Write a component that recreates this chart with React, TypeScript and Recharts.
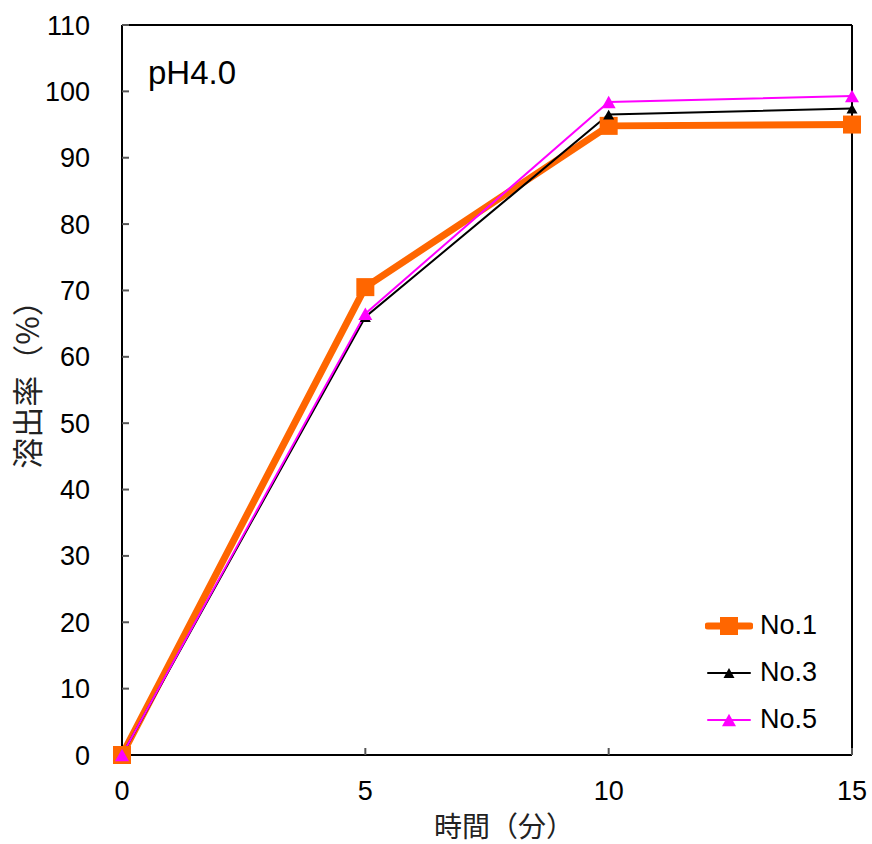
import { LineChart, Line, XAxis, YAxis, ReferenceLine, Legend } from 'recharts';

const minutes = [0, 5, 10, 15];
const no1 = [0, 70.5, 94.8, 95.0];
const no3 = [0, 66.0, 96.5, 97.4];
const no5 = [0, 66.5, 98.4, 99.3];
const yTicks = [0, 10, 20, 30, 40, 50, 60, 70, 80, 90, 100, 110];

const data = minutes.map((t, i) => ({ t, no1: no1[i], no3: no3[i], no5: no5[i] }));

const FONT = 'Arial, "Liberation Sans", sans-serif';
const CJK = '"Noto Sans CJK JP", sans-serif';

type Shape = 'square' | 'triangle';

const series = [
  { key: 'no1', name: 'No.1', color: '#FF6600', width: 7, shape: 'square' as Shape, size: 18 },
  { key: 'no3', name: 'No.3', color: '#000000', width: 2, shape: 'triangle' as Shape, size: 11 },
  { key: 'no5', name: 'No.5', color: '#FF00FF', width: 2, shape: 'triangle' as Shape, size: 14 },
];

function Marker({ cx, cy, shape, size, color }: { cx: number; cy: number; shape: Shape; size: number; color: string }) {
  if (shape === 'square') {
    return <rect x={cx - size / 2} y={cy - size / 2} width={size} height={size} fill={color} />;
  }
  const h = size * 0.9;
  return (
    <polygon
      points={`${cx},${cy - h / 2} ${cx + size / 2},${cy + h / 2} ${cx - size / 2},${cy + h / 2}`}
      fill={color}
    />
  );
}

function LegendBox() {
  return (
    <div style={{ fontFamily: FONT, fontSize: 27, color: '#000' }}>
      {series.map(s => (
        <div key={s.key} style={{ display: 'flex', alignItems: 'center', height: 47 }}>
          <svg width={48} height={24}>
            <line x1={3} y1={12} x2={45} y2={12} stroke={s.color} strokeWidth={s.width} strokeLinecap="round" />
            <Marker cx={24} cy={12} shape={s.shape} size={s.size} color={s.color} />
          </svg>
          <span style={{ marginLeft: 7, lineHeight: 1 }}>{s.name}</span>
        </div>
      ))}
    </div>
  );
}

export default function App() {
  return (
    <div style={{ position: 'absolute', left: 0, top: 0 }}>
      <LineChart width={872} height={844} data={data} margin={{ top: 25, right: 20, left: 0, bottom: 0 }}>
        <XAxis
          dataKey="t"
          type="number"
          domain={[0, 15]}
          ticks={minutes}
          height={89}
          axisLine={{ stroke: '#000', strokeWidth: 2 }}
          tickLine={{ stroke: '#555', strokeWidth: 2 }}
          tickSize={-7}
          tickMargin={33}
          tick={{ fill: '#000', fontSize: 27, fontFamily: FONT }}
          label={{
            content: () => (
              <text x={504} y={825} textAnchor="middle" dominantBaseline="central"
                style={{ fontFamily: CJK, fontSize: 28, fill: '#222' }}>
                時間（分）
              </text>
            ),
          }}
        />
        <YAxis
          type="number"
          domain={[0, 110]}
          ticks={yTicks}
          width={122}
          axisLine={{ stroke: '#000', strokeWidth: 2 }}
          tickLine={{ stroke: '#555', strokeWidth: 2 }}
          tickSize={-7}
          tickMargin={39}
          tick={{ fill: '#000', fontSize: 27, fontFamily: FONT }}
          label={{
            content: () => (
              <text x={25} y={377} transform="rotate(-90, 25, 377)" textAnchor="middle" dominantBaseline="central"
                style={{ fontFamily: CJK, fontSize: 31, fill: '#222' }}>
                溶出率（%）
              </text>
            ),
          }}
        />
        <ReferenceLine y={110} stroke="#000" strokeWidth={2} />
        <ReferenceLine x={15} stroke="#000" strokeWidth={2} />
        {series.map(s => (
          <Line
            key={s.key}
            dataKey={s.key}
            name={s.name}
            type="linear"
            stroke={s.color}
            strokeWidth={s.width}
            isAnimationActive={false}
            dot={(p: any) => (
              <Marker key={`${s.key}-${p.index}`} cx={p.cx} cy={p.cy} shape={s.shape} size={s.size} color={s.color} />
            )}
            activeDot={false}
          />
        ))}
        <Legend
          layout="vertical"
          align="center"
          verticalAlign="middle"
          content={() => <LegendBox />}
          wrapperStyle={{ left: 705, top: 602, width: 140 }}
        />
      </LineChart>
      <div
        style={{
          position: 'absolute',
          left: 148,
          top: 56,
          fontFamily: FONT,
          fontSize: 33,
          color: '#000',
          lineHeight: 1,
        }}
      >
        pH4.0
      </div>
    </div>
  );
}
